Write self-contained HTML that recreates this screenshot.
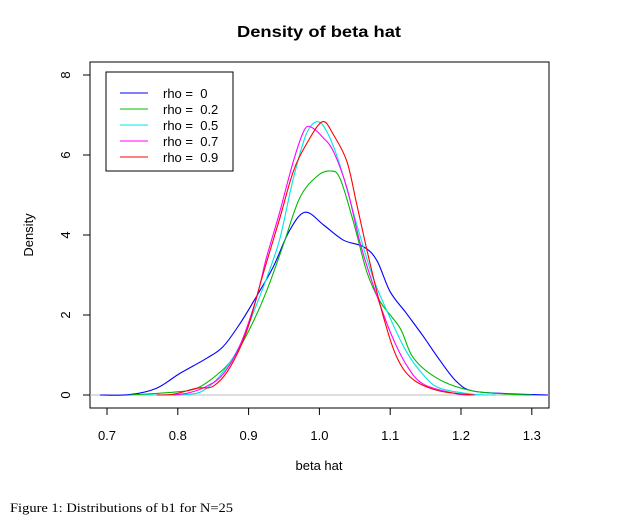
<!DOCTYPE html>
<html><head><meta charset="utf-8"><style>
body{margin:0;background:#fff;}
svg text{font-family:"Liberation Sans",sans-serif;}
</style></head><body>
<svg width="631" height="526">
<text x="319" y="37" text-anchor="middle" font-size="16" font-weight="bold" textLength="164" lengthAdjust="spacingAndGlyphs">Density of beta hat</text>
<rect x="90" y="62" width="459" height="346" fill="none" stroke="#000"/>
<g id="axes"></g>
<g id="series"></g>
<text x="319" y="470" text-anchor="middle" font-size="13">beta hat</text>
<text transform="translate(33,235) rotate(-90)" text-anchor="middle" font-size="13">Density</text>
<g id="legend">
<rect x="106" y="72" width="127" height="99" fill="#fff" stroke="#000"/>
</g>
<text x="10" y="512" font-size="13" textLength="223" lengthAdjust="spacingAndGlyphs" style="font-family:'Liberation Serif',serif">Figure 1: Distributions of b1 for N=25</text>
</svg>
<script>
const xTicks=[0.7,0.8,0.9,1.0,1.1,1.2,1.3];
const xTickLabels=["0.7","0.8","0.9","1.0","1.1","1.2","1.3"];
const yTicks=[0,2,4,6,8];
const seriesNames=["rho =  0","rho =  0.2","rho =  0.5","rho =  0.7","rho =  0.9"];
const seriesColors=["#0000ff","#00bb00","#00e5e5","#ff00ff","#ff0000"];
const xBlue=[0.69,0.732,0.77,0.803,0.841,0.864,0.888,0.911,0.935,0.958,0.98,1.006,1.034,1.062,1.081,1.1,1.123,1.147,1.17,1.194,1.217,1.27,1.323];
const yBlue=[0,0.01,0.17,0.54,0.92,1.21,1.79,2.46,3.21,4.12,4.57,4.25,3.87,3.71,3.37,2.58,2.04,1.46,0.87,0.33,0.1,0.03,0];
const xGreen=[0.732,0.794,0.827,0.855,0.878,0.902,0.925,0.949,0.972,0.996,1.015,1.029,1.048,1.067,1.086,1.114,1.133,1.17,1.217,1.27,1.3];
const yGreen=[0,0.07,0.17,0.5,0.92,1.67,2.58,3.75,4.92,5.46,5.6,5.42,4.33,3.08,2.33,1.67,0.92,0.38,0.1,0.02,0];
const xCyan=[0.75,0.817,0.841,0.864,0.888,0.911,0.925,0.944,0.963,0.981,0.996,1.01,1.029,1.053,1.076,1.1,1.123,1.147,1.17,1.217,1.25];
const yCyan=[0,0.02,0.17,0.58,1.25,2.25,2.9,3.9,5.4,6.5,6.83,6.6,5.75,4.25,2.92,1.92,1.08,0.5,0.17,0.02,0];
const xMagenta=[0.794,0.817,0.841,0.864,0.888,0.911,0.925,0.944,0.963,0.978,0.988,1.006,1.02,1.039,1.057,1.076,1.1,1.123,1.147,1.194,1.22];
const yMagenta=[0,0.06,0.22,0.52,1.25,2.42,3.42,4.58,5.83,6.6,6.7,6.42,6.08,5.17,3.83,2.75,1.58,0.75,0.27,0.03,0];
const xRed=[0.77,0.794,0.827,0.85,0.873,0.897,0.92,0.944,0.963,0.981,1.004,1.02,1.039,1.053,1.072,1.091,1.11,1.133,1.17,1.217];
const yRed=[0,0.02,0.17,0.22,0.67,1.58,3,4.42,5.58,6.25,6.83,6.5,5.83,4.75,3.25,1.92,0.92,0.38,0.1,0];
const NS="http://www.w3.org/2000/svg";
const sx=v=>107+(v-0.7)*708;
const sy=v=>395-v*40;
function mk(tag,attrs,parent){const e=document.createElementNS(NS,tag);for(const k in attrs)e.setAttribute(k,attrs[k]);parent.appendChild(e);return e;}
function smooth(P){let d='M'+P[0][0].toFixed(1)+','+P[0][1].toFixed(1);
 for(let i=0;i<P.length-1;i++){const p0=P[Math.max(0,i-1)],p1=P[i],p2=P[i+1],p3=P[Math.min(P.length-1,i+2)];
  const c1x=p1[0]+(p2[0]-p0[0])/6,c1y=p1[1]+(p2[1]-p0[1])/6,c2x=p2[0]-(p3[0]-p1[0])/6,c2y=p2[1]-(p3[1]-p1[1])/6;
  d+=`C${c1x.toFixed(1)},${c1y.toFixed(1)} ${c2x.toFixed(1)},${c2y.toFixed(1)} ${p2[0].toFixed(1)},${p2[1].toFixed(1)}`;}
 return d;}
const axes=document.getElementById('axes');
const base=mk('line',{x1:90,x2:549,y1:sy(0),y2:sy(0),stroke:'#bbb'},axes);


xTicks.forEach((v,i)=>{
 const t=mk('line',{x1:sx(v),x2:sx(v),y1:408,y2:415,stroke:'#000'},axes);
 
 
 const l=mk('text',{x:sx(v),y:440,'text-anchor':'middle','font-size':13},axes);
 l.textContent=xTickLabels[i];
 
 
});
yTicks.forEach(v=>{
 const t=mk('line',{x1:83,x2:90,y1:sy(v),y2:sy(v),stroke:'#000'},axes);
 
 
 const l=mk('text',{transform:`translate(70,${sy(v)}) rotate(-90)`,'text-anchor':'middle','font-size':13},axes);
 l.textContent=String(v);
 
 
});
const xs=[xBlue,xGreen,xCyan,xMagenta,xRed],ys=[yBlue,yGreen,yCyan,yMagenta,yRed];
const sg=document.getElementById('series');
xs.forEach((X,k)=>{
 const P=X.map((v,i)=>[sx(v),sy(ys[k][i])]);
 const p=mk('path',{d:smooth(P),fill:'none',stroke:seriesColors[k],'stroke-width':1.1,'stroke-linejoin':'round'},sg);
 
 
});
const lg=document.getElementById('legend');
seriesNames.forEach((n,k)=>{
 const y=93+k*16;
 const l=mk('line',{x1:120,x2:148,y1:y,y2:y,stroke:seriesColors[k]},lg);
 
 
 const t=mk('text',{x:163,y:y+5,'font-size':13,style:'white-space:pre'},lg);
 t.textContent=n;
 
 
});
</script>
</body></html>
